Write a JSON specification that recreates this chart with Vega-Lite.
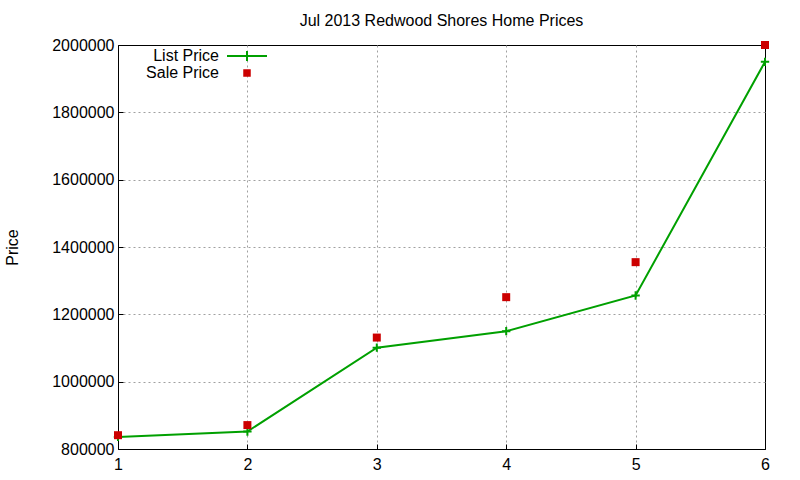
{
  "$schema": "https://vega.github.io/schema/vega-lite/v6.json",
  "width": 647,
  "height": 404,
  "autosize": {"type": "none"},
  "padding": {"left": 118, "top": 45, "right": 35, "bottom": 31},
  "background": "white",
  "title": {
    "text": "Jul 2013 Redwood Shores Home Prices",
    "fontSize": 16,
    "fontWeight": "normal",
    "font": "Liberation Sans",
    "color": "black",
    "anchor": "middle",
    "offset": 8
  },
  "config": {
    "view": {"stroke": "black", "strokeWidth": 1},
    "font": "Liberation Sans",
    "axis": {
      "labelFont": "Liberation Sans",
      "labelFontSize": 16,
      "labelColor": "black",
      "labelFlush": false,
      "domainColor": "black",
      "tickColor": "black",
      "tickSize": -5,
      "gridColor": "#a0a0a0",
      "gridDash": [2, 3],
      "gridWidth": 1
    }
  },
  "data": {
    "values": [
      {"x": 1, "price": 836000, "series": "List Price"},
      {"x": 2, "price": 852000, "series": "List Price"},
      {"x": 3, "price": 1101000, "series": "List Price"},
      {"x": 4, "price": 1150000, "series": "List Price"},
      {"x": 5, "price": 1256000, "series": "List Price"},
      {"x": 6, "price": 1950000, "series": "List Price"},
      {"x": 1, "price": 841000, "series": "Sale Price"},
      {"x": 2, "price": 871000, "series": "Sale Price"},
      {"x": 3, "price": 1131000, "series": "Sale Price"},
      {"x": 4, "price": 1251000, "series": "Sale Price"},
      {"x": 5, "price": 1355000, "series": "Sale Price"},
      {"x": 6, "price": 2000000, "series": "Sale Price"}
    ]
  },
  "encoding": {
    "x": {
      "field": "x",
      "type": "quantitative",
      "scale": {"domain": [1, 6], "nice": false, "zero": false},
      "axis": {
        "title": null,
        "values": [1, 2, 3, 4, 5, 6],
        "format": "d",
        "labelPadding": 12,
        "grid": true,
        "gridOpacity": {"condition": {"test": "datum.value === 1 || datum.value === 6", "value": 0}, "value": 1}
      }
    },
    "y": {
      "field": "price",
      "type": "quantitative",
      "scale": {"domain": [800000, 2000000], "nice": false, "zero": false},
      "axis": {
        "title": "Price",
        "titleFont": "Liberation Sans",
        "titleFontSize": 16,
        "titleFontWeight": "normal",
        "titleColor": "black",
        "titleAngle": -90,
        "titleX": -106,
        "titleY": 202,
        "titleAlign": "center",
        "titleBaseline": "middle",
        "values": [800000, 1000000, 1200000, 1400000, 1600000, 1800000, 2000000],
        "format": "d",
        "labelPadding": 9,
        "grid": true,
        "gridOpacity": {"condition": {"test": "datum.value === 800000 || datum.value === 2000000", "value": 0}, "value": 1}
      }
    }
  },
  "layer": [
    {
      "transform": [{"filter": "datum.series === 'List Price'"}],
      "mark": {"type": "line", "color": "#00a000", "strokeWidth": 2}
    },
    {
      "transform": [{"filter": "datum.series === 'List Price'"}],
      "mark": {"type": "point", "shape": "M-1,0H1M0,-1V1", "size": 70, "stroke": "#00a000", "strokeWidth": 2, "filled": false, "opacity": 1}
    },
    {
      "transform": [{"filter": "datum.series === 'Sale Price'"}],
      "mark": {"type": "square", "size": 64, "color": "#cc0000", "filled": true, "opacity": 1}
    },
    {
      "mark": {"type": "point", "opacity": 0, "filled": true},
      "encoding": {
        "fill": {
          "field": "series",
          "type": "nominal",
          "scale": {"domain": ["List Price", "Sale Price"], "range": ["#00a000", "#cc0000"]},
          "legend": {
            "title": null,
            "orient": "none",
            "legendX": 121,
            "legendY": 3,
            "symbolOpacity": 1,
            "symbolSize": 100,
            "symbolStrokeWidth": 2,
            "labelFontSize": 16,
            "labelFont": "Liberation Sans",
            "labelColor": "black",
            "labelAlign": "right",
            "labelOffset": -36,
            "rowPadding": 0,
            "encode": {
              "symbols": {
                "update": {
                  "opacity": {"value": 1},
                  "fillOpacity": {"value": 1},
                  "strokeOpacity": {"value": 1}
                }
              }
            }
          }
        },
        "stroke": {
          "field": "series",
          "type": "nominal",
          "scale": {"domain": ["List Price", "Sale Price"], "range": ["#00a000", "#cc0000"]}
        },
        "shape": {
          "field": "series",
          "type": "nominal",
          "scale": {"domain": ["List Price", "Sale Price"], "range": ["M-4,0H4M0,-1V1", "M-0.55,-0.55H0.55V0.55H-0.55Z"]}
        }
      }
    }
  ]
}
